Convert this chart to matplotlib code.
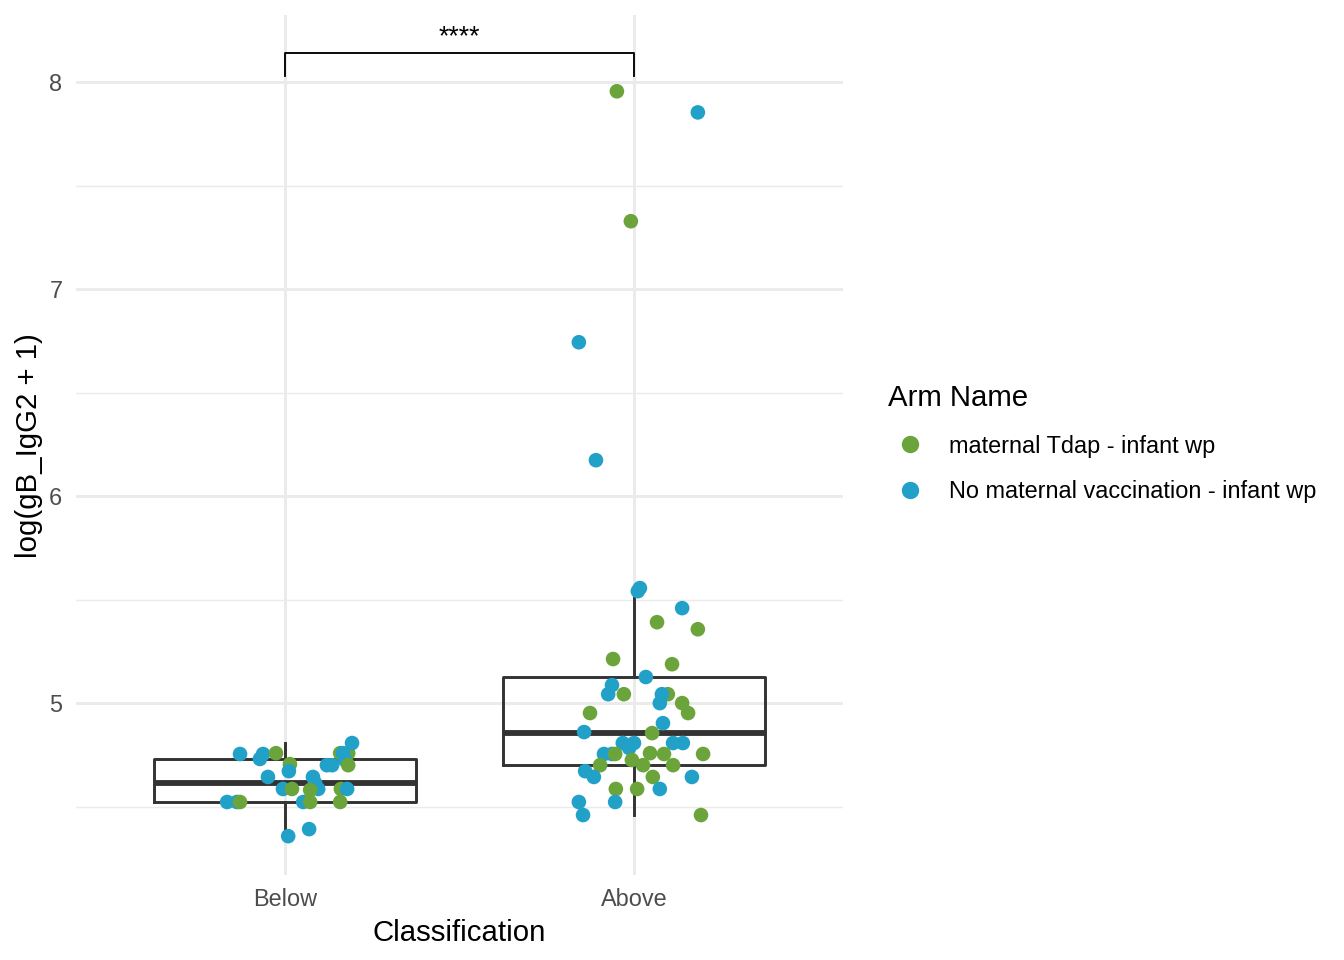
import matplotlib.pyplot as plt
from matplotlib.lines import Line2D
import numpy as np

plt.rcParams['font.family'] = ['Liberation Sans', 'DejaVu Sans']

categories = ['Below', 'Above']
arm_names = ['maternal Tdap - infant wp', 'No maternal vaccination - infant wp']
arm_colors = ['#6BA43A', '#21A0C8']

# values; arm 0 = Tdap, arm 1 = no maternal vaccination
below_values = [4.754, 4.754, 4.730, 4.758, 4.705, 4.671, 4.643, 4.585, 4.585, 4.522,
                4.522, 4.522, 4.522, 4.522, 4.643, 4.614, 4.585, 4.580, 4.700, 4.700,
                4.758, 4.758, 4.758, 4.725, 4.700, 4.807, 4.585, 4.585, 4.522, 4.357,
                4.391]
below_jitter = [-0.129, -0.063, -0.072, -0.026, 0.014, 0.011, -0.049, -0.006, 0.020, -0.166,
                -0.138, -0.129, 0.052, 0.072, 0.080, 0.086, 0.095, 0.072, 0.120, 0.135,
                0.158, 0.181, 0.166, 0.172, 0.181, 0.192, 0.160, 0.178, 0.158, 0.009,
                0.069]
below_arm = [1, 1, 1, 0, 0, 1, 1, 1, 0, 1,
             1, 0, 1, 0, 1, 1, 1, 0, 1, 1,
             0, 0, 1, 1, 0, 1, 0, 1, 0, 1,
             1]

above_values = [5.556, 5.541, 5.459, 5.391, 5.357, 5.213, 5.188, 5.126, 5.087, 5.043,
                5.043, 5.043, 5.043, 5.000, 5.000, 4.952, 4.952, 4.903, 4.860, 4.855,
                4.807, 4.807, 4.783, 4.807, 4.807, 4.754, 4.754, 4.754, 4.758, 4.754,
                4.754, 4.725, 4.700, 4.700, 4.700, 4.671, 4.643, 4.643, 4.643, 4.585,
                4.585, 4.585, 4.522, 4.522, 4.459, 4.459, 7.957, 7.855, 7.329, 6.744,
                6.174]
above_jitter = [0.017, 0.011, 0.138, 0.066, 0.183, -0.060, 0.109, 0.034, -0.063, -0.074,
                -0.029, 0.097, 0.080, 0.074, 0.138, 0.155, -0.126, 0.083, -0.143, 0.052,
                -0.032, 0.000, -0.014, 0.112, 0.140, -0.086, -0.063, -0.054, 0.046, 0.086,
                0.198, -0.006, 0.026, -0.097, 0.112, -0.140, -0.115, 0.054, 0.166, -0.052,
                0.009, 0.074, -0.158, -0.054, -0.146, 0.192, -0.049, 0.183, -0.009, -0.158,
                -0.109]
above_arm = [1, 1, 1, 0, 0, 0, 0, 1, 1, 1,
             0, 0, 1, 1, 0, 0, 0, 1, 1, 0,
             1, 1, 1, 1, 1, 1, 1, 0, 0, 0,
             0, 0, 0, 0, 0, 1, 1, 0, 1, 0,
             0, 1, 1, 1, 1, 0, 0, 1, 0, 1,
             1]

# box statistics as drawn in the picture
box_q1 = [4.522, 4.699]
box_med = [4.612, 4.857]
box_q3 = [4.729, 5.128]
box_lo = [4.357, 4.459]
box_hi = [4.807, 5.556]

signif_label = '****'

fig = plt.figure(figsize=(7, 5), dpi=192)
ax = fig.add_axes([0.0563, 0.0885, 0.5712, 0.8955])

stats = []
for i in range(2):
    stats.append(dict(med=box_med[i], q1=box_q1[i], q3=box_q3[i],
                      whislo=box_lo[i], whishi=box_hi[i], fliers=[]))
ax.bxp(stats, positions=[1, 2], widths=0.75, showfliers=False, showcaps=False,
       boxprops=dict(color='#333333', linewidth=1.1),
       whiskerprops=dict(color='#333333', linewidth=1.1),
       medianprops=dict(color='#333333', linewidth=2.2, solid_capstyle='butt'),
       zorder=2)

groups = [(1, below_values, below_jitter, below_arm),
          (2, above_values, above_jitter, above_arm)]
for pos, vals, jit, arm in groups:
    x = pos + np.array(jit)
    cols = [arm_colors[a] for a in arm]
    ax.scatter(x, vals, c=cols, s=30, linewidths=0, zorder=3)

# significance bracket
ax.plot([1, 1, 2, 2], [8.029, 8.140, 8.140, 8.029], color='black', lw=0.7, zorder=3)
ax.text(1.5, 8.22, signif_label, ha='center', va='center', fontsize=10, color='black')

ax.set_xlim(0.4, 2.6)
ax.set_ylim(4.169, 8.324)
ax.set_xticks([1, 2])
ax.set_xticklabels(categories)
ax.set_yticks([5, 6, 7, 8])
ax.set_yticks([4.5, 5.5, 6.5, 7.5], minor=True)
ax.grid(axis='y', which='major', color='#EBEBEB', lw=1.1)
ax.grid(axis='y', which='minor', color='#EBEBEB', lw=0.55)
ax.grid(axis='x', which='major', color='#EBEBEB', lw=1.1)
ax.set_axisbelow(True)
for s in ax.spines.values():
    s.set_visible(False)
ax.tick_params(which='both', length=0, labelsize=8.8, labelcolor='#4D4D4D', pad=5)
ax.set_xlabel('Classification', fontsize=11, labelpad=3)
ax.set_ylabel('log(gB_IgG2 + 1)', fontsize=11, labelpad=2.5)

handles = [Line2D([], [], marker='o', ls='', color=c, markersize=5.5) for c in arm_colors]
leg = fig.legend(handles, arm_names, title='Arm Name', loc='center left',
                 bbox_to_anchor=(0.645, 0.538), frameon=False, fontsize=8.8,
                 title_fontsize=11, labelspacing=0.95, handletextpad=0.7,
                 handlelength=1.9)
leg._legend_box.align = 'left'

fig.savefig('out.png', dpi=192)
